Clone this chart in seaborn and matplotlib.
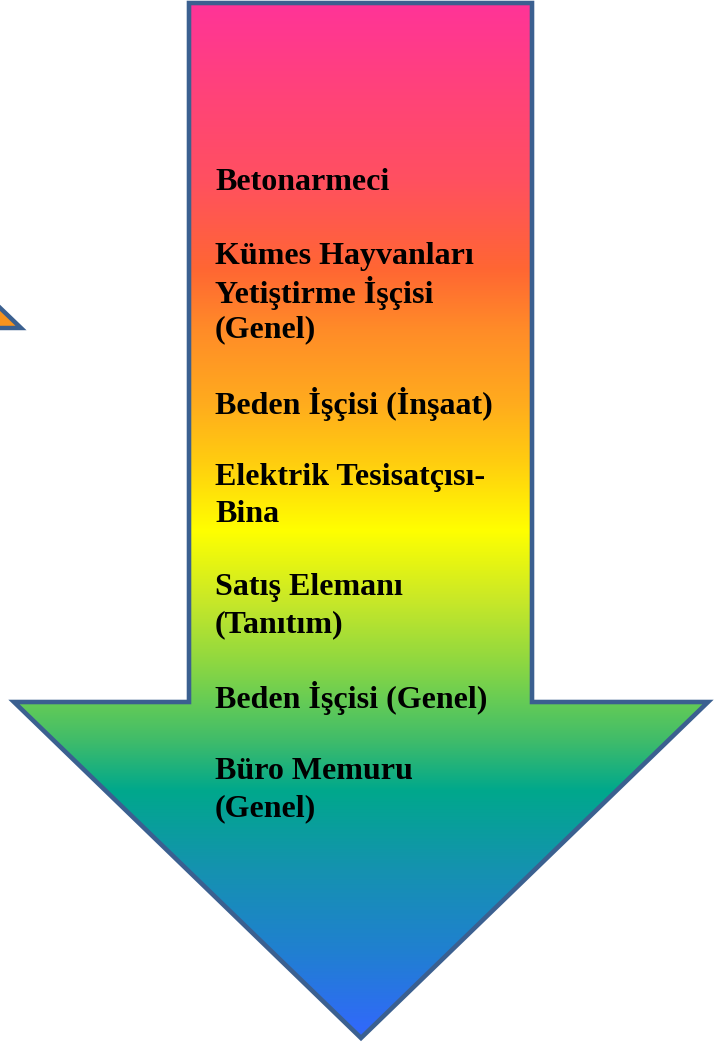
import numpy as np
import matplotlib
matplotlib.use("Agg")
import matplotlib.pyplot as plt
from matplotlib.patches import Polygon
import seaborn as sns

# ---- data ----
items = [
    "Betonarmeci",
    "Kümes Hayvanları\nYetiştirme İşçisi\n(Genel)",
    "Beden İşçisi (İnşaat)",
    "Elektrik Tesisatçısı-\nBina",
    "Satış Elemanı\n(Tanıtım)",
    "Beden İşçisi (Genel)",
    "Büro Memuru\n(Genel)",
]
gradient_colors = ["#FF3399", "#FF4477", "#FF5060", "#FF6633", "#FF8C28",
                   "#FFAA1E", "#FFCC10", "#FFFF00", "#C8E828", "#90D840",
                   "#66CC55", "#40BC6A", "#00A88C", "#1592B0", "#2080D0",
                   "#3366FF"]
gradient_stops = [0, 100, 180, 268, 330, 400, 460, 530, 600, 660,
                  700, 740, 790, 870, 950, 1040]

sns.set_theme(style="white")
plt.rcParams['font.family'] = ['Liberation Serif', 'DejaVu Serif']

W, H = 720, 1046
fig = plt.figure(figsize=(W / 100, H / 100), dpi=100)
ax = fig.add_axes([0, 0, 1, 1])
ax.set_xlim(0, W)
ax.set_ylim(H, 0)
ax.axis("off")

border = "#3B6090"

# small partial arrow at left
tri = Polygon([(-30, 279), (21, 328), (-30, 328)], closed=True,
              facecolor="#F7931E", edgecolor=border, linewidth=3.2, zorder=2)
ax.add_patch(tri)

# main arrow
verts = [(189, 3), (532, 3), (532, 702), (708, 702), (361, 1038),
         (14, 702), (189, 702)]
arrow = Polygon(verts, closed=True, facecolor="none", edgecolor=border,
                linewidth=3.3, zorder=3, joinstyle="miter")
ax.add_patch(arrow)

# gradient
ys = np.arange(0, H)
rgb = np.array([matplotlib.colors.to_rgb(c) for c in gradient_colors])
cols = np.stack([np.interp(ys, gradient_stops, rgb[:, k]) for k in range(3)], axis=1)
img = np.repeat(cols[:, None, :], 2, axis=1)
im = ax.imshow(img, extent=(0, W, H, 0), aspect="auto", zorder=1,
               interpolation="bilinear")
clip = Polygon(verts, closed=True, transform=ax.transData)
im.set_clip_path(clip)

# text
lines = []
for i, it in enumerate(items):
    if i > 0:
        lines.append("")
    lines.extend(it.split("\n"))
y0, dy = 183, 36.8
for k, ln in enumerate(lines):
    if ln:
        ax.text(215, y0 + k * dy, ln, fontsize=23, fontweight="bold",
                color="black", va="center", ha="left", zorder=4)

fig.savefig("out.png", dpi=100)
